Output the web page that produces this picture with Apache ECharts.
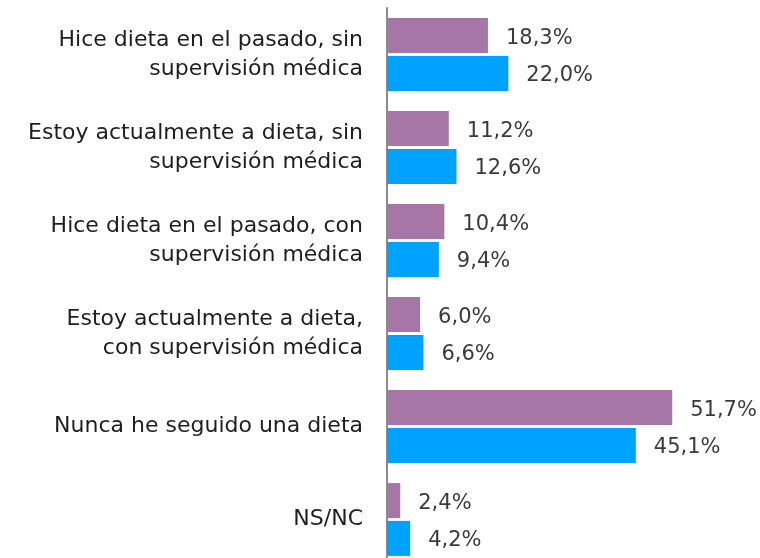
<!DOCTYPE html>
<html>
<head>
<meta charset="utf-8">
<script src="https://cdn.jsdelivr.net/npm/echarts@6/dist/echarts.min.js"></script>
<style>
	html, body { margin: 0; padding: 0; background: #fff; overflow: hidden; }
	#main { width: 760px; height: 566px; }
</style>
</head>
<body>
<div id="main"></div>
<script>
// categorias de arriba a abajo
var categories = [
	"Hice dieta en el pasado, sin\nsupervisión médica",
	"Estoy actualmente a dieta, sin\nsupervisión médica",
	"Hice dieta en el pasado, con\nsupervisión médica",
	"Estoy actualmente a dieta,\ncon supervisión médica",
	"Nunca he seguido una dieta",
	"NS/NC"
];
var serieA = [18.3, 11.2, 10.4, 6.0, 51.7, 2.4];
var serieB = [22.0, 12.6, 9.4, 6.6, 45.1, 4.2];

var fontName = "'DejaVu Sans', sans-serif";

function fmt(p) {
	return p.value.toFixed(1).replace(".", ",") + "%";
}

var myChart = echarts.init(document.getElementById("main"));
myChart.setOption({
	animation: false,
	grid: { left: 387, top: 8, right: 42, bottom: 0 },
	xAxis: {
		type: "value",
		min: 0,
		max: 60,
		show: false
	},
	yAxis: {
		type: "category",
		inverse: true,
		data: categories,
		axisLine: { show: true, lineStyle: { color: "#8c8c8c", width: 2 } },
		axisTick: { show: false },
		axisLabel: {
			margin: 24,
			fontSize: 22,
			lineHeight: 29,
			color: "#1e1e1e",
			fontFamily: fontName,
			align: "right"
		}
	},
	series: [
		{
			name: "A",
			type: "bar",
			data: serieA,
			barWidth: 35,
			barGap: "8%",
			itemStyle: { color: "#a576a6" },
			label: {
				show: true,
				position: "right",
				distance: 18,
				offset: [0, 3],
				fontSize: 21,
				color: "#3a3a3a",
				fontFamily: fontName,
				formatter: fmt
			}
		},
		{
			name: "B",
			type: "bar",
			data: serieB,
			barWidth: 35,
			barGap: "8%",
			itemStyle: { color: "#00a2ff" },
			label: {
				show: true,
				position: "right",
				distance: 18,
				offset: [0, 2],
				fontSize: 21,
				color: "#3a3a3a",
				fontFamily: fontName,
				formatter: fmt
			}
		}
	]
});
</script>
</body>
</html>
